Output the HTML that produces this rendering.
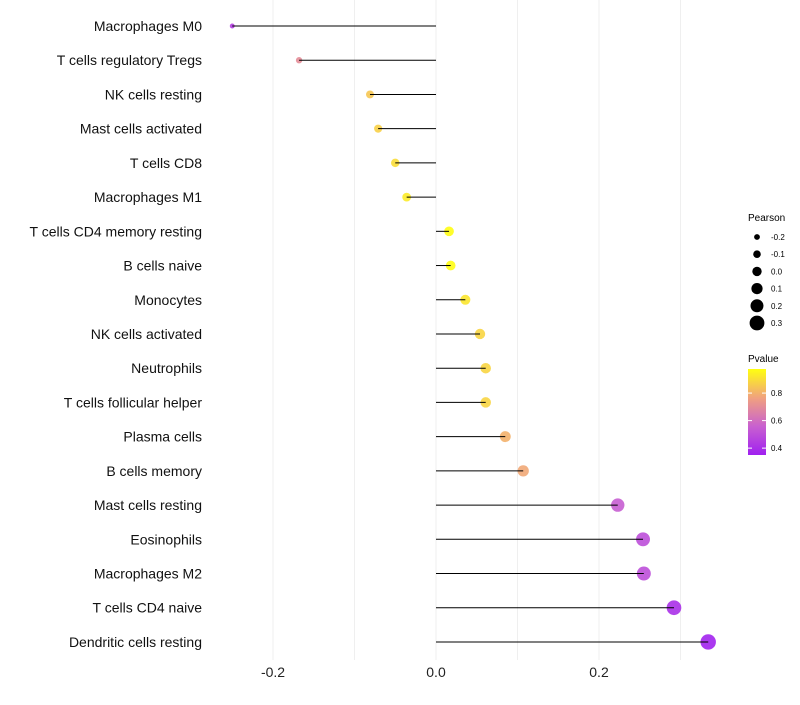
<!DOCTYPE html>
<html><head><meta charset="utf-8"><style>
body{margin:0;background:#fff;width:800px;height:700px;overflow:hidden}
svg{font-family:"Liberation Sans",sans-serif}
</style></head><body>
<svg id="chart" width="800" height="700" xmlns="http://www.w3.org/2000/svg">
<g id="grid"></g>
<g id="marks"></g>
<g id="ylab" style="white-space:pre"></g>
<g id="xlab"></g>
<g id="legend">
<defs><linearGradient id="pg" x1="0" y1="1" x2="0" y2="0">
<stop offset="0" stop-color="#a020f0"/><stop offset="0.33" stop-color="#c860d0"/><stop offset="0.66" stop-color="#f0a080"/><stop offset="1" stop-color="#ffff10"/></linearGradient></defs>
<text x="748" y="221" font-size="10">Pearson</text>
<text x="748" y="362" font-size="10">Pvalue</text>
<rect x="748" y="369" width="18" height="86" fill="url(#pg)"/>
</g>
</svg>
<script>
const categories=["Macrophages M0","T cells regulatory  Tregs ","NK cells resting","Mast cells activated","T cells CD8","Macrophages M1","T cells CD4 memory resting","B cells naive","Monocytes","NK cells activated","Neutrophils","T cells follicular helper","Plasma cells","B cells memory","Mast cells resting","Eosinophils","Macrophages M2","T cells CD4 naive","Dendritic cells resting"];
const pearson=[-0.25,-0.168,-0.081,-0.071,-0.050,-0.036,0.016,0.018,0.036,0.054,0.061,0.061,0.085,0.107,0.223,0.254,0.255,0.292,0.334];
const pvalue=[0.45,0.70,0.85,0.87,0.90,0.93,0.97,0.97,0.92,0.88,0.88,0.88,0.80,0.78,0.55,0.50,0.50,0.40,0.36];
const xTicks=[-0.2,0.0,0.2];
const sizeTicks=[-0.2,-0.1,0.0,0.1,0.2,0.3];
const colorTicks=[0.4,0.6,0.8];
const NS="http://www.w3.org/2000/svg";
const xs=v=>436+v*815;
const ys=i=>26+i*34.22;
const rs=v=>Math.max(1.5,4.7+9*v);
const cy=p=>455-(p-0.35)/0.625*86;
function col(p){const t=Math.max(0,Math.min(1,(p-0.35)/0.625));const st=[[0,[160,32,240]],[0.33,[200,96,208]],[0.66,[240,160,128]],[1,[255,255,16]]];
for(let k=1;k<st.length;k++){if(t<=st[k][0]){const a=st[k-1],b=st[k],f=(t-a[0])/(b[0]-a[0]);return 'rgb('+a[1].map((c,j)=>Math.round(c+(b[1][j]-c)*f)).join(',')+')';}}return 'rgb(255,255,16)';}
function mk(tag,at,parent){const e=document.createElementNS(NS,tag);for(const k in at)e.setAttribute(k,at[k]);document.getElementById(parent).appendChild(e);return e;}
[-0.2,-0.1,0,0.1,0.2,0.3].forEach(v=>{const l=mk('line',{x1:xs(v),x2:xs(v),y1:0,y2:660,stroke:'#efefef','stroke-width':1},'grid');

});
xTicks.forEach(v=>{const t=mk('text',{x:xs(v),y:677,'font-size':14,'text-anchor':'middle',fill:'#222'},'xlab');t.textContent=v.toFixed(1);

});
categories.forEach((c,i)=>{const t=mk('text',{x:202,y:ys(i)+5,'font-size':14,'text-anchor':'end',fill:'#111'},'ylab');t.textContent=c;


const d=mk('circle',{cx:xs(pearson[i]),cy:ys(i),r:rs(pearson[i]),fill:col(pvalue[i]),'fill-opacity':0.9},'marks');


const l=mk('line',{x1:xs(0),x2:xs(pearson[i]),y1:ys(i),y2:ys(i),stroke:'#000','stroke-width':1},'marks');

});
sizeTicks.forEach((v,k)=>{const y=237+k*17.2;const c=mk('circle',{cx:757,cy:y,r:rs(v),fill:'#000'},'legend');


const t=mk('text',{x:771,y:y+3,'font-size':8},'legend');t.textContent=v.toFixed(1);

});
colorTicks.forEach(v=>{const y=cy(v);const l=mk('line',{x1:748,x2:752,y1:y,y2:y,stroke:'#fff'},'legend');


const l2=mk('line',{x1:762,x2:766,y1:y,y2:y,stroke:'#fff'},'legend');


const t=mk('text',{x:771,y:y+3,'font-size':8},'legend');t.textContent=v.toFixed(1);

});
</script>
</body></html>
